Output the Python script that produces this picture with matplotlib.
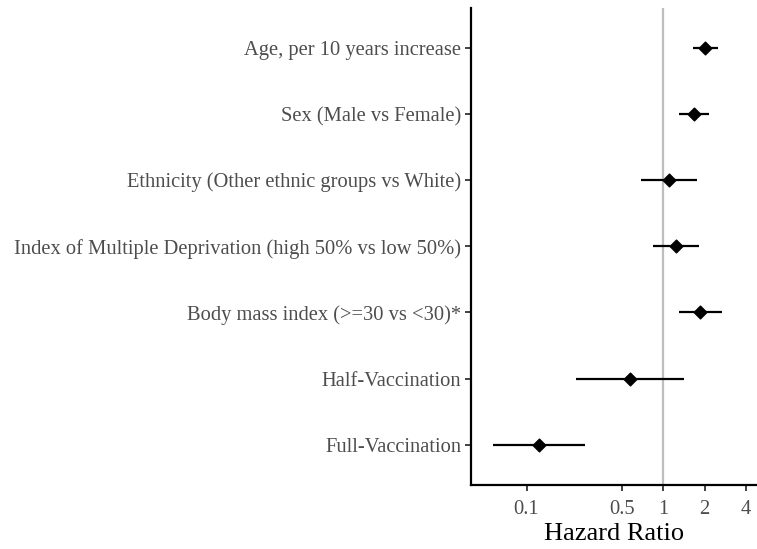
import matplotlib
matplotlib.use("Agg")
import matplotlib.pyplot as plt
import numpy as np

categories = [
    "Age, per 10 years increase",
    "Sex (Male vs Female)",
    "Ethnicity (Other ethnic groups vs White)",
    "Index of Multiple Deprivation (high 50% vs low 50%)",
    "Body mass index (>=30 vs <30)*",
    "Half-Vaccination",
    "Full-Vaccination",
]
hr = [2.03, 1.67, 1.10, 1.23, 1.85, 0.575, 0.124]
ci_low = [1.64, 1.29, 0.69, 0.84, 1.29, 0.231, 0.057]
ci_high = [2.51, 2.16, 1.76, 1.81, 2.66, 1.42, 0.268]
xticks = [0.1, 0.5, 1, 2, 4]
xticklabels = ["0.1", "0.5", "1", "2", "4"]

plt.rcParams['font.family'] = ['Liberation Serif', 'DejaVu Serif']

fig = plt.figure(figsize=(7.57, 5.49), dpi=100)
ax = fig.add_axes([471/757, 64.5/549, 1 - 471/757, (541 - 64.5)/549])

n = len(categories)
ypos = np.arange(n, 0, -1)

ax.axvline(1, color="#BEBEBE", lw=1.6, zorder=1)
ax.hlines(ypos, ci_low, ci_high, color="black", lw=1.6, zorder=2)
ax.scatter(hr, ypos, marker="D", s=42, color="black", zorder=3)

ax.set_xscale("log")
ax.set_xlim(0.0393, 4.83)
ax.set_ylim(0.4, n + 0.6)
ax.set_xticks(xticks)
ax.set_xticklabels(xticklabels)
ax.minorticks_off()
ax.set_yticks(ypos)
ax.set_yticklabels(categories)

for s in ["top", "right"]:
    ax.spines[s].set_visible(False)
for s in ["left", "bottom"]:
    ax.spines[s].set_linewidth(1.6)
    ax.spines[s].set_color("black")

ax.tick_params(axis="both", length=4, width=1.3, color="#333333",
               labelsize=14.8, labelcolor="#4D4D4D")
ax.tick_params(axis="x", pad=7)
ax.tick_params(axis="y", pad=3)
ax.set_xlabel("Hazard Ratio", fontsize=19, color="black", labelpad=3)

fig.savefig("out.png", dpi=100)
